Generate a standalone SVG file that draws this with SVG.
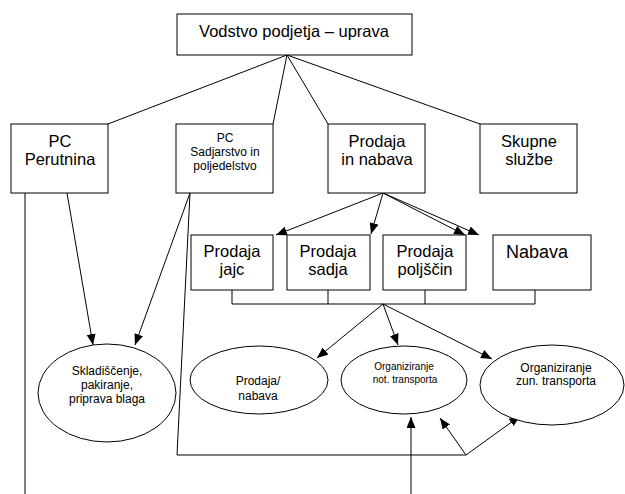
<svg xmlns="http://www.w3.org/2000/svg" width="625" height="494" viewBox="0 0 625 494">
  <style>
    .box { fill: #fff; stroke: #000; stroke-width: 1; }
    .ell { fill: #fff; stroke: #000; stroke-width: 1; }
    .ln { fill: none; stroke: #000; stroke-width: 1; }
    .arr { fill: none; stroke: #000; stroke-width: 1; marker-end: url(#ah); }
    text { font-family: "Liberation Sans", Arial, sans-serif; fill: #000; text-anchor: middle; }
    .t16 { font-size: 16.5px; }
    .t18 { font-size: 18px; }
    .t12 { font-size: 12px; }
    .t10 { font-size: 10px; }
  </style>
  <defs>
    <marker id="ah" markerUnits="userSpaceOnUse" markerWidth="12" markerHeight="10" refX="11" refY="4.5" orient="auto">
      <path d="M0,0 L11,4.5 L0,9 z" fill="#000"/>
    </marker>
  </defs>
  <rect width="625" height="494" fill="#fff"/>

  <g id="connectors">
    <!-- management to divisions -->
    <path class="ln" d="M287,55 L108,124"/>
    <path class="ln" d="M287,55 L273,124"/>
    <path class="ln" d="M287,55 L328,124"/>
    <path class="ln" d="M287,55 L480,124"/>
    <!-- sales & purchasing to its units -->
    <path class="arr" d="M383,193 L276,235"/>
    <path class="arr" d="M383,193 L371,234"/>
    <path class="arr" d="M383,193 L465,235"/>
    <path class="arr" d="M383,193 L479,235"/>
    <!-- bus under the units -->
    <path class="ln" d="M232,290 V304 H535 V290 M328,290 V304 M425,290 V304"/>
    <path class="arr" d="M383,304 L317,358"/>
    <path class="arr" d="M383,304 L398,345"/>
    <path class="arr" d="M383,304 L492,359"/>
    <!-- warehouse inputs -->
    <path class="arr" d="M67,193 L93,345"/>
    <path class="arr" d="M190,193 L135,345"/>
    <!-- long feeds -->
    <path class="ln" d="M25,193 V494"/>
    <path class="ln" d="M190,193 L177,455 H466"/>
    <path class="arr" d="M466,455 L440,418"/>
    <path class="arr" d="M466,455 L520,416"/>
    <path class="arr" d="M411,494 V417"/>
  </g>

  <g id="vodstvo">
    <rect class="box" x="177" y="14" width="235" height="41"/>
    <text class="t16" x="294" y="37">Vodstvo podjetja – uprava</text>
  </g>

  <g id="pc-perutnina">
    <rect class="box" x="11" y="124" width="97" height="69"/>
    <text class="t16" x="60" y="147">PC</text>
    <text class="t16" x="60" y="165">Perutnina</text>
  </g>

  <g id="pc-sadjarstvo">
    <rect class="box" x="176" y="124" width="97" height="69"/>
    <text class="t12" x="225" y="142">PC</text>
    <text class="t12" x="225" y="156">Sadjarstvo in</text>
    <text class="t12" x="225" y="170">poljedelstvo</text>
  </g>

  <g id="prodaja-nabava">
    <rect class="box" x="328" y="124" width="97" height="69"/>
    <text class="t16" x="377" y="147">Prodaja</text>
    <text class="t16" x="377" y="165">in nabava</text>
  </g>

  <g id="skupne-sluzbe">
    <rect class="box" x="480" y="124" width="97" height="69"/>
    <text class="t16" x="529" y="147">Skupne</text>
    <text class="t16" x="529" y="165">službe</text>
  </g>

  <g id="prodaja-jajc">
    <rect class="box" x="191" y="235" width="82" height="55"/>
    <text class="t16" x="232" y="257">Prodaja</text>
    <text class="t16" x="232" y="275">jajc</text>
  </g>

  <g id="prodaja-sadja">
    <rect class="box" x="287" y="235" width="83" height="55"/>
    <text class="t16" x="328" y="257">Prodaja</text>
    <text class="t16" x="328" y="275">sadja</text>
  </g>

  <g id="prodaja-poljscin">
    <rect class="box" x="383" y="235" width="83" height="55"/>
    <text class="t16" x="425" y="257">Prodaja</text>
    <text class="t16" x="425" y="275">poljščin</text>
  </g>

  <g id="nabava">
    <rect class="box" x="493" y="235" width="98" height="55"/>
    <text class="t18" x="537" y="258">Nabava</text>
  </g>

  <g id="skladiscenje">
    <ellipse class="ell" cx="107" cy="393" rx="69" ry="49"/>
    <text class="t12" x="107" y="375">Skladiščenje,</text>
    <text class="t12" x="107" y="389">pakiranje,</text>
    <text class="t12" x="107" y="403">priprava blaga</text>
  </g>

  <g id="prodaja-nabava-ops">
    <ellipse class="ell" cx="259" cy="380" rx="69" ry="34"/>
    <text class="t12" x="258" y="385">Prodaja/</text>
    <text class="t12" x="258" y="400">nabava</text>
  </g>

  <g id="notranji-transport">
    <ellipse class="ell" cx="404" cy="380" rx="63" ry="34"/>
    <text class="t10" x="404" y="370">Organiziranje</text>
    <text class="t10" x="405" y="383">not. transporta</text>
  </g>

  <g id="zunanji-transport">
    <ellipse class="ell" cx="552" cy="385" rx="72" ry="40"/>
    <text class="t12" x="556" y="372">Organiziranje</text>
    <text class="t12" x="556" y="385">zun. transporta</text>
  </g>
</svg>
